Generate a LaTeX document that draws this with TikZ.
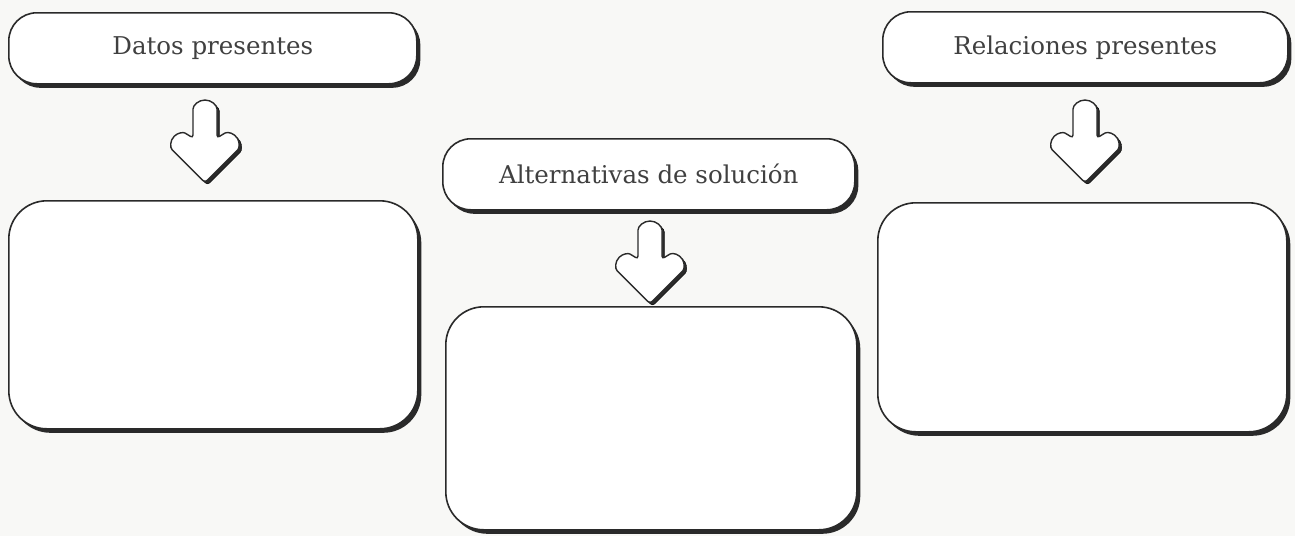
\documentclass[tikz,border=0pt]{standalone}
\usepackage{fontspec}
\setmainfont{DejaVu Serif}
\usetikzlibrary{shadows,calc}
\definecolor{ink}{HTML}{2A2A2A}
\definecolor{txt}{HTML}{404040}
\definecolor{paper}{HTML}{F8F8F6}
\tikzset{
  boxbase/.style={draw=ink, line width=1.6pt, fill=white, inner sep=0pt, anchor=north west,
    drop shadow={shadow xshift=3.5pt, shadow yshift=-4pt, fill=ink, opacity=1}},
  pill/.style={boxbase, rounded corners=28pt, minimum height=71pt,
    font=\fontsize{24.5}{28}\selectfont, text=txt},
  bigbox/.style={boxbase, rounded corners=38pt},
  arrowshape/.style={draw=ink, line width=1.4pt, fill=white, rounded corners=3pt},
  arrowshadow/.style={fill=ink, rounded corners=3pt}
}
\newcommand{\downarrowshape}[2]{%
  % #1 = centre x, #2 = top y  (screen coordinates, y downwards)
  \foreach \dx/\dy/\sty in {2.5/2.5/arrowshadow, 0/0/arrowshape}{
    \draw[\sty] ($(#1-12+\dx,#2+38+\dy)$) -- ($(#1-12+\dx,#2+12+\dy)$)
      arc[start angle=180, end angle=360, radius=12]
      -- ($(#1+12+\dx,#2+38+\dy)$) -- ($(#1+17.5+\dx,#2+34.5+\dy)$)
      arc[start angle=240, end angle=405, radius=11]
      -- ($(#1+\dx,#2+82.6+\dy)$)
      -- ($(#1-30.8+\dx,#2+51.8+\dy)$)
      arc[start angle=135, end angle=300, radius=11]
      -- cycle;
  }
}
\begin{document}
\begin{tikzpicture}[x=1pt,y=-1pt]
  \fill[paper] (0,0) rectangle (1295,536);
  \useasboundingbox (0,0) rectangle (1295,536);

  % top labels
  \node[pill, minimum width=408pt] (t1) at (8,12) {Datos presentes};
  \node[pill, minimum width=412pt] (t2) at (442,138) {Alternativas de solución};
  \node[pill, minimum width=405pt] (t3) at (882,11) {Relaciones presentes};

  % empty boxes
  \node[bigbox, minimum width=409pt, minimum height=228pt] (b1) at (8,200) {};
  \node[bigbox, minimum width=411pt, minimum height=223pt] (b2) at (445,306) {};
  \node[bigbox, minimum width=409pt, minimum height=229pt] (b3) at (877,202) {};

  % arrows
  \downarrowshape{205}{100}
  \downarrowshape{650}{221}
  \downarrowshape{1085}{100}
\end{tikzpicture}
\end{document}
